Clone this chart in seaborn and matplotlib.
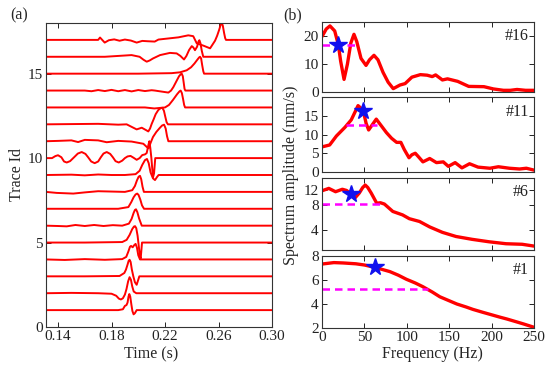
import matplotlib
matplotlib.use("Agg")
import matplotlib.pyplot as plt
import numpy as np
import pandas as pd
import seaborn as sns

# ---------------- data: panel (a) seismic traces (time s, normalised amplitude) ----
trace_ids = list(range(1, 18))

tr01_t = [0.131, 0.185, 0.1885, 0.1900, 0.1912, 0.1920, 0.1927, 0.1933, 0.1940, 0.1948,
          0.1956, 0.1965, 0.1975, 0.1988, 0.300]
tr01_a = [0, 0, 0.05, 0.25, 0.30, 0.45, 0.80, 0.95, 0.80, 0.35, -0.05, -0.25, -0.18, 0, 0]
tr02_t = [0.131, 0.150, 0.170, 0.180, 0.1835, 0.1855, 0.1870, 0.1885, 0.1900, 0.1912,
          0.1924, 0.1935, 0.1945, 0.1955, 0.1966, 0.1985, 0.300]
tr02_a = [0, 0.02, 0, -0.03, -0.15, -0.32, -0.37, -0.30, -0.08, 0.25, 0.70, 0.95, 0.80,
          0.40, 0.10, 0, 0]
tr03_t = [0.131, 0.160, 0.186, 0.1896, 0.1908, 0.1920, 0.1928, 0.1935, 0.1943, 0.1952,
          0.1963, 0.1975, 0.1988, 0.1998, 0.2008, 0.300]
tr03_a = [0, 0, 0.02, 0.20, 0.40, 0.70, 0.92, 0.98, 0.85, 0.40, 0.0, -0.35, -0.50, -0.25, 0, 0]
tr04_t = [0.131, 0.145, 0.160, 0.175, 0.188, 0.1910, 0.1925, 0.1938, 0.1946, 0.1958,
          0.1970, 0.1980, 0.1990, 0.2000, 0.2013, 0.300]
tr04_a = [0, -0.03, 0.02, -0.02, 0.02, 0.15, 0.45, 0.75, 0.80, 0.72, 0.85, 0.92, 0.70,
          0.25, 0, 0]
tr05_t = [0.131, 0.160, 0.188, 0.1913, 0.1935, 0.1955, 0.1968, 0.1976, 0.1985, 0.1995,
          0.2005, 0.2012, 0.2018, 0.2028, 0.300]
tr05_a = [0, 0, 0.03, 0.16, 0.45, 0.80, 0.95, 0.97, 0.85, 0.40, -0.30, -0.80, -0.95, 0, 0]
tr06_t = [0.131, 0.140, 0.1465, 0.153, 0.160, 0.167, 0.174, 0.181, 0.188, 0.1930, 0.1950,
          0.1965, 0.1975, 0.1983, 0.1993, 0.2006, 0.2026, 0.300]
tr06_a = [0, -0.02, -0.04, 0.04, -0.02, 0.04, -0.02, 0.03, 0, 0.12, 0.40, 0.75, 0.93,
          0.97, 0.80, 0.43, 0, 0]
tr07_t = [0.131, 0.160, 0.185, 0.1926, 0.1948, 0.1965, 0.1980, 0.1992, 0.2002, 0.2015,
          0.2028, 0.2043, 0.300]
tr07_a = [0, 0, 0, 0.10, 0.40, 0.68, 0.85, 0.90, 0.82, 0.55, 0.20, 0, 0]
tr08_t = [0.131, 0.139, 0.1514, 0.160, 0.170, 0.180, 0.190, 0.1955, 0.1975, 0.1990,
          0.2003, 0.2013, 0.2022, 0.2032, 0.2042, 0.300]
tr08_a = [0, -0.06, -0.10, -0.03, 0.04, 0.02, 0, 0.10, 0.35, 0.68, 0.90, 0.95, 0.75,
          0.30, 0, 0]
tr09_t = [0.131, 0.150, 0.160, 0.170, 0.180, 0.190, 0.198, 0.2010, 0.2030, 0.2050, 0.2065,
          0.2078, 0.2092, 0.2110, 0.2125, 0.2140, 0.2152, 0.300]
tr09_a = [0, 0.02, -0.02, 0.03, 0, 0, 0.05, 0.25, 0.60, 0.88, 0.95, 0.70, 0.15, -0.20,
          -0.30, -0.12, 0, 0]
tr10_t = [0.131, 0.1355, 0.1380, 0.1400, 0.1425, 0.1445, 0.1465, 0.1490, 0.1520, 0.1548,
          0.1577, 0.1605, 0.1625, 0.1648, 0.1674, 0.1700, 0.1720, 0.1740, 0.1764, 0.1790,
          0.1810, 0.1830, 0.1854, 0.1880, 0.1900, 0.1920, 0.1942, 0.1965, 0.1988, 0.2010,
          0.2030, 0.2050, 0.2063, 0.2075, 0.2083, 0.2090, 0.2098, 0.2110, 0.2118, 0.2127, 0.300]
tr10_a = [0, 0, 0.12, 0.17, 0.05, -0.20, -0.26, -0.18, 0.05, 0.27,
          0.36, 0.25, 0.05, -0.20, -0.30, -0.20, 0.05, 0.27, 0.36, 0.25,
          0.05, -0.18, -0.26, -0.15, 0, 0.10, 0.13, 0.02, -0.10, 0,
          0.18, 0.22, 0.30, 0.75, 1.0, 0.60, 0, -1.15, -0.90, 0, 0]
tr11_t = [0.131, 0.140, 0.150, 0.155, 0.160, 0.170, 0.1764, 0.185, 0.195, 0.2038, 0.2065,
          0.2078, 0.2092, 0.2110, 0.2135, 0.2160, 0.2178, 0.2193, 0.2205, 0.2215, 0.2225, 0.300]
tr11_a = [0, 0.02, 0.05, -0.05, 0.08, 0.05, -0.06, 0.02, -0.02, -0.15, -0.35,
          -0.42, -0.10, 0.25, 0.55, 0.78, 0.93, 0.98, 0.75, 0.30, 0, 0]
tr12_t = [0.131, 0.170, 0.185, 0.1913, 0.1938, 0.1988, 0.2026, 0.2060, 0.2075, 0.2088,
          0.2100, 0.2115, 0.2130, 0.2150, 0.2168, 0.2180, 0.2192, 0.2202, 0.2212, 0.2222, 0.300]
tr12_a = [0, 0.03, -0.02, 0, -0.10, -0.30, -0.20, -0.35, -0.42, -0.25, 0.02, 0.30, 0.60,
          0.85, 0.96, 0.98, 0.80, 0.45, 0.12, 0, 0]
tr13_t = [0.131, 0.180, 0.205, 0.212, 0.220, 0.223, 0.226, 0.229, 0.2308, 0.2317, 0.2326,
          0.2335, 0.2343, 0.2350, 0.300]
tr13_a = [0, 0, 0, -0.06, 0, 0.15, 0.45, 0.78, 0.95, 1.0, 0.85, 0.50, 0.15, 0, 0]
tr14_t = [0.131, 0.160, 0.165, 0.170, 0.175, 0.180, 0.185, 0.190, 0.195, 0.200, 0.205,
          0.210, 0.2124, 0.2225, 0.2245, 0.2262, 0.2285, 0.2305, 0.2318, 0.2325, 0.2333,
          0.2340, 0.2346, 0.2352, 0.300]
tr14_a = [0, 0, -0.04, 0.03, -0.03, 0.04, -0.04, 0.03, -0.05, 0.03, -0.03,
          0.02, 0, -0.12, 0, 0.20, 0.55, 0.85, 0.97, 1.0, 0.85, 0.45, 0.10, 0, 0]
tr15_t = [0.131, 0.200, 0.225, 0.2312, 0.2362, 0.2395, 0.2420, 0.2442, 0.2455, 0.2462,
          0.2470, 0.2478, 0.2486, 0.2492, 0.300]
tr15_a = [0, 0, 0.03, 0.08, 0.20, 0.38, 0.60, 0.83, 0.96, 1.0, 0.90, 0.50, 0.15, 0, 0]
tr16_t = [0.131, 0.175, 0.185, 0.195, 0.2010, 0.2040, 0.2063, 0.2085, 0.2110, 0.2163, 0.2237,
          0.2287, 0.2315, 0.2342, 0.2360, 0.2380, 0.2400, 0.2412, 0.2424, 0.2440, 0.2450,
          0.2457, 0.2465, 0.2475, 0.2486, 0.300]
tr16_a = [0, 0, 0.05, 0.10, 0, -0.18, -0.29, -0.22, -0.10, 0.10, 0.23,
          0.20, 0.05, -0.16, 0.05, 0.40, 0.63, 0.55, 0.39, 0.60, 0.90,
          0.98, 0.80, 0.35, 0, 0]
tr17_t = [0.131, 0.170, 0.1714, 0.1749, 0.178, 0.182, 0.186, 0.190, 0.1945, 0.1988, 0.203,
          0.207, 0.2123, 0.2151, 0.222, 0.230, 0.2374, 0.2411, 0.2437, 0.2490, 0.2537,
          0.2574, 0.2590, 0.2605, 0.2617, 0.2624, 0.2632, 0.2642, 0.2650, 0.2656, 0.300]
tr17_a = [0, 0, 0.14, -0.16, -0.02, 0.03, -0.05, 0.02, -0.04, -0.16, -0.06,
          -0.08, -0.10, 0.02, 0.08, 0.15, 0.27, 0.22, -0.20, -0.35, -0.50,
          -0.05, 0.25, 0.60, 0.92, 1.0, 0.85, 0.40, 0.10, 0, 0]

trace_times = [tr01_t, tr02_t, tr03_t, tr04_t, tr05_t, tr06_t, tr07_t, tr08_t, tr09_t,
               tr10_t, tr11_t, tr12_t, tr13_t, tr14_t, tr15_t, tr16_t, tr17_t]
trace_amps = [tr01_a, tr02_a, tr03_a, tr04_a, tr05_a, tr06_a, tr07_a, tr08_a, tr09_a,
              tr10_a, tr11_a, tr12_a, tr13_a, tr14_a, tr15_a, tr16_a, tr17_a]

# ---------------- data: panel (b) spectra (Hz, mm/s) ----------------
f16 = [0, 5, 9.4, 15, 19.3, 22, 26, 30, 34, 37.7, 41, 46, 51.9, 56, 61.3, 66, 72, 78, 84, 92,
       98, 106, 116, 124, 130, 134, 142, 148, 160, 173, 191, 202, 214, 222, 230, 240, 250]
s16 = [19.8, 22.5, 23.6, 21.8, 16.8, 11, 4.5, 10, 17.5, 20.6, 18, 12, 9.5, 11.5, 13.1, 11.5, 7,
       3.5, 1.2, 2.5, 3.0, 5.3, 6.2, 6.0, 5.5, 6.1, 4.3, 4.7, 3.8, 2.0, 1.9, 1.1, 0.6, 0.6, 0.9,
       0.6, 0.6]
f11 = [0, 9, 17, 27, 34.5, 40, 42.5, 45, 48.7, 52, 55, 59, 64, 70, 76, 82, 88, 93, 97, 102.6,
       106, 110, 114, 119, 127, 135, 143, 149, 157, 165, 174, 184, 198, 208, 221, 233, 241, 250]
s11 = [6.7, 7.2, 9.6, 11.9, 13.9, 16.5, 17.7, 17.2, 16.3, 13, 11.2, 12.5, 14.1, 12.3, 10.5, 9,
       7.9, 7.9, 6, 3.8, 4.6, 5.0, 4.0, 2.7, 3.6, 2.5, 2.7, 1.5, 2.5, 1.1, 2.2, 1.3, 1.0, 1.4,
       1.0, 0.8, 1.0, 0.5]
f06 = [0, 8, 16, 24, 29, 34, 38.5, 44, 48, 51, 54, 58, 64.5, 69, 73.6, 83.5, 95, 103, 115, 127,
       142, 158, 177, 197, 217, 236, 250]
s06 = [11.7, 12.5, 11.4, 12.2, 11.8, 10.7, 9.5, 11.0, 12.8, 13.7, 12.8, 11, 8.3, 8.4, 8.1, 6.6,
       6.0, 5.4, 5.0, 4.3, 3.7, 3.3, 3.05, 2.85, 2.7, 2.66, 2.53]
f01 = [0, 14, 25, 40, 50, 62.5, 70, 80, 90, 99.5, 110, 119, 130, 139, 150, 159, 170, 178, 190,
       198, 210, 218, 230, 238, 250]
s01 = [7.33, 7.45, 7.42, 7.35, 7.25, 7.05, 6.9, 6.7, 6.4, 6.06, 5.75, 5.44, 5.0, 4.6, 4.27, 4.0,
       3.75, 3.55, 3.3, 3.14, 2.9, 2.75, 2.5, 2.33, 2.06]

panel_names = ["#16", "#11", "#6", "#1"]
star_f = [19.3, 48.7, 34.0, 62.5]
star_v = [16.8, 16.3, 10.7, 7.05]
band_level = [16.7, 12.5, 8.1, 5.22]
band_lo = [0, 28, 0, 0]
band_hi = [41, 64.5, 70, 124.6]

# ---------------- styling ----------------
sns.set_theme(style="white")
plt.rcParams["font.family"] = ["Liberation Serif", "DejaVu Serif"]
plt.rcParams["font.size"] = 11
plt.rcParams["axes.edgecolor"] = "#333333"
plt.rcParams["axes.linewidth"] = 0.8

W, H = 550, 365
fig = plt.figure(figsize=(5.5, 3.65), dpi=100)


def box(l, t, r, b):
    return [l / W, 1 - b / H, (r - l) / W, (b - t) / H]


def style_ticks(ax):
    ax.tick_params(direction="in", length=3.5, width=0.7, top=True, right=True,
                   bottom=True, left=True, labelsize=11, colors="#222222", pad=2.5)


# ---- panel (a)
axL = fig.add_axes(box(46, 23, 272, 327))
rows = []
for tid, ts, am in zip(trace_ids, trace_times, trace_amps):
    for t, a in zip(ts, am):
        rows.append((tid, t, tid + a))
df_tr = pd.DataFrame(rows, columns=["trace", "t", "y"])
sns.lineplot(data=df_tr, x="t", y="y", units="trace", estimator=None, sort=False,
             color="red", lw=1.4, ax=axL, legend=False)
axL.set_xlim(0.131, 0.30)
axL.set_ylim(0, 18)
axL.set_xticks([0.14, 0.18, 0.22, 0.26, 0.30])
axL.set_xticklabels(["0.14", "0.18", "0.22", "0.26", "0.30"])
axL.set_yticks([0, 5, 10, 15])
axL.set_xlabel("")
axL.set_ylabel("")
style_ticks(axL)

# ---- panel (b)
spec_f = [f16, f11, f06, f01]
spec_s = [s16, s11, s06, s01]
boxes = [(22, 92), (97, 172), (177.5, 250), (256, 328)]
ylims = [(0, 25), (0, 20), (2.27, 16.9), (2, 8)]
yticks = [[0, 10, 20], [0, 5, 10, 15], [4, 8, 12], [2, 4, 6, 8]]
for i in range(4):
    ax = fig.add_axes(box(322, boxes[i][0], 534, boxes[i][1]))
    if i == 2:
        ax.set_yscale("log")
    sns.lineplot(x=spec_f[i], y=spec_s[i], color="red", lw=2.4, ax=ax)
    ax.plot([band_lo[i], band_hi[i]], [band_level[i], band_level[i]], color="#ff00ff",
            lw=1.8, ls=(0, (3, 2)))
    ax.plot([star_f[i]], [star_v[i]], marker="*", color="#1010ee", ms=13, mec="#1010ee",
            ls="none", zorder=5)
    ax.set_xlim(0, 250)
    ax.set_ylim(*ylims[i])
    ax.set_yticks(yticks[i])
    ax.set_yticklabels([str(v) for v in yticks[i]])
    ax.minorticks_off()
    ax.set_xticks([0, 50, 100, 150, 200, 250])
    style_ticks(ax)
    if i < 3:
        ax.tick_params(labelbottom=False)
    ax.text(0.975, 0.80, panel_names[i], transform=ax.transAxes, ha="right", va="center",
            fontsize=11.5, color="#222222")

# ---- labels
fig.text(10 / W, 1 - 15 / H, "(a)", ha="left", va="center", fontsize=11.5)
fig.text(283 / W, 1 - 15 / H, "(b)", ha="left", va="center", fontsize=11.5)
fig.text(17 / W, 1 - 175 / H, "Trace Id", rotation=90, ha="center", va="center", fontsize=11.5)
fig.text(291 / W, 1 - 175 / H, "Spectrum amplitude (mm/s)", rotation=90, ha="center",
         va="center", fontsize=11.5)
fig.text(151 / W, 1 - 346 / H, "Time (s)", ha="center", va="top", fontsize=11.5)
fig.text(432 / W, 1 - 346 / H, "Frequency (Hz)", ha="center", va="top", fontsize=11.5)

fig.savefig("out.png", dpi=100)
